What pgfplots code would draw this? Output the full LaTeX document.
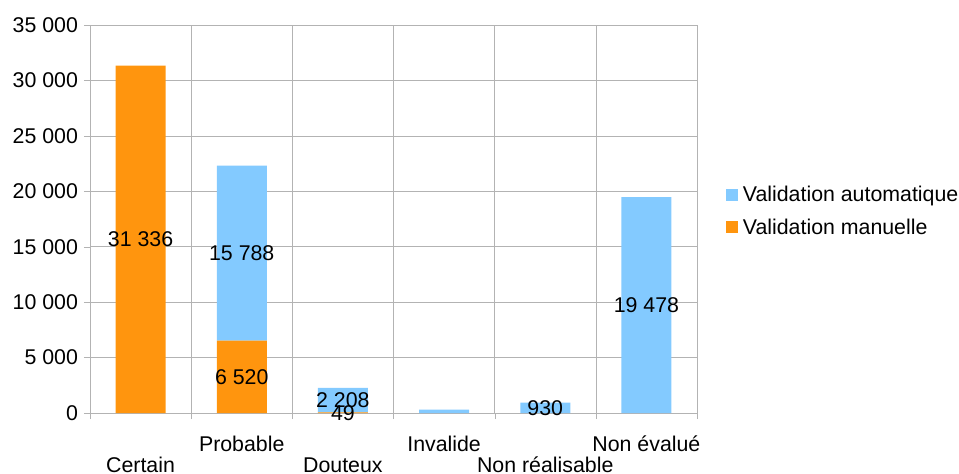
\documentclass[border=0pt]{standalone}
\usepackage{pgfplots}
\pgfplotsset{compat=1.18}
\usepackage{fontspec}
\setmainfont{Liberation Sans}
\definecolor{autoc}{HTML}{83CAFF}
\definecolor{manuc}{HTML}{FF950E}
\definecolor{gridc}{HTML}{B3B3B3}
\begin{document}
\begin{tikzpicture}
\useasboundingbox (-67.5pt,-45.75pt) rectangle (651.75pt,309.75pt);
\pgfplotsset{
 base/.style={scale only axis, width=455.25pt, height=291pt,
   xmin=-0.5, xmax=5.5, ymin=0, ymax=35000, at={(0,0)}, anchor=south west}
}
\begin{axis}[base, ybar stacked, bar width=37.5pt,
  font=\fontsize{16}{19}\selectfont,
  xtick={0,...,5},
  xticklabels={{\mbox{}\\[8.5pt]Certain},Probable,{\mbox{}\\[8.5pt]Douteux},Invalide,{\mbox{}\\[8.5pt]Non réalisable},Non évalué},
  x tick label style={align=center, anchor=north, inner ysep=0pt, yshift=-12.6pt},
  major x tick style={draw=none},
  minor xtick={-0.5,0.5,...,5.5}, xminorgrids, minor grid style={gridc},
  minor x tick style={gridc},
  ytick={0,5000,...,35000}, ymajorgrids, major grid style={gridc},
  axis line style={gridc}, y tick style={gridc}, tick align=outside,
  major tick length=4.5pt, minor tick length=4.5pt,
  xtick pos=lower, ytick pos=left,
  scaled y ticks=false,
  y tick label style={/pgf/number format/1000 sep={\ }, xshift=-1pt},
  /pgf/number format/assume math mode=true,
  legend style={draw=none, at={(1.04,0.52)}, anchor=west, legend cell align=left,
    row sep=7pt, font=\fontsize{16}{19}\selectfont,
    nodes={inner xsep=4pt}},
  reverse legend,
  legend image code/.code={\fill[#1] (0pt,-4.5pt) rectangle (9pt,4.5pt);},
]
\addplot[fill=manuc, draw=none] coordinates {(0,31336) (1,6520) (2,49) (3,0) (4,0) (5,0)};
\addplot[fill=autoc, draw=none] coordinates {(0,0) (1,15788) (2,2208) (3,300) (4,930) (5,19478)};
\legend{Validation manuelle, Validation automatique}
\end{axis}
\begin{axis}[base, hide axis]
\addplot[only marks, mark=none, nodes near coords, point meta=explicit symbolic,
  nodes near coords style={anchor=center, font=\fontsize{16}{19}\selectfont, text=black}]
  table[col sep=comma, meta=label] {
x,y,label
0,15668,31 336
1,3260,6 520
1,14414,15 788
2,24.5,49
2,1153,2 208
4,465,930
5,9739,19 478
};
\end{axis}
\end{tikzpicture}
\end{document}
